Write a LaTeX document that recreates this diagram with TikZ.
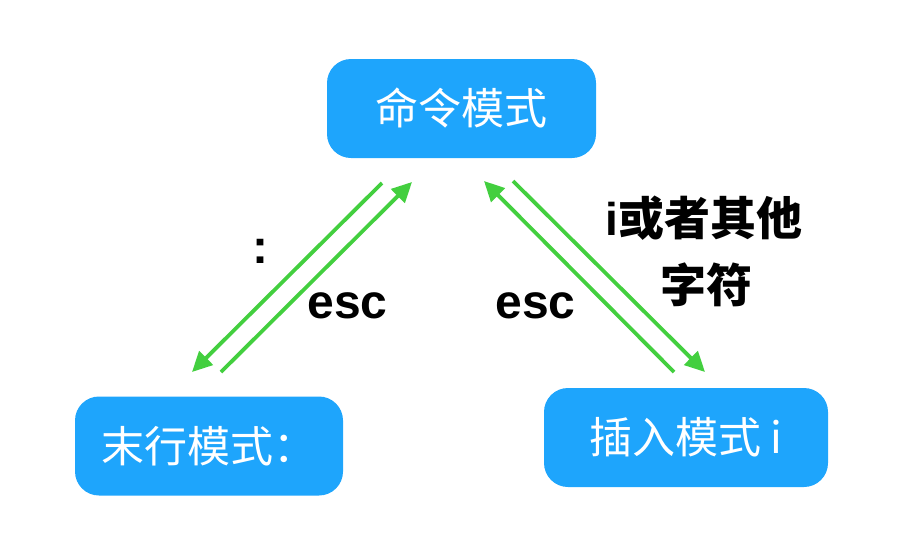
\documentclass[tikz,border=0pt]{standalone}
\usepackage{fontspec}
\setmainfont{Liberation Sans}
\newfontfamily\cjk{Noto Sans CJK SC}
\usetikzlibrary{arrows.meta}
\definecolor{boxblue}{RGB}{30,165,252}
\definecolor{arrgreen}{RGB}{67,207,63}
\begin{document}
\begin{tikzpicture}[x=1pt,y=-1pt,
  modebox/.style={draw=none, fill=boxblue, rounded corners=24pt, minimum height=99pt, text=white, font=\cjk\fontsize{43}{50}\selectfont, inner sep=0pt},
  conn/.style={draw=arrgreen, line width=3.8pt, -{Triangle[length=20pt,width=19pt]}},
  lbl/.style={font=\bfseries\fontsize{48}{56}\selectfont, anchor=base, inner sep=0pt},
  cjklbl/.style={font=\cjk\bfseries\fontsize{46}{54}\selectfont, anchor=base, inner sep=0pt}]
\useasboundingbox (0,0) rectangle (912,544);
\node[modebox, minimum width=269pt] (cmd) at (461.5,108.5) {命令模式};
\node[modebox, minimum width=268pt] (last) at (209,446) {末行模式：};
\node[modebox, minimum width=284pt] (ins) at (686,437.5) {插入模式 i};
\coordinate (a1s) at (382,183);
\coordinate (a1e) at (192,372);
\coordinate (a2s) at (221,372);
\coordinate (a2e) at (412,182);
\coordinate (a3s) at (674,372);
\coordinate (a3e) at (484,181);
\coordinate (a4s) at (513,181);
\coordinate (a4e) at (705,372);
\draw[conn] (a1s) -- (a1e);
\draw[conn] (a2s) -- (a2e);
\draw[conn] (a3s) -- (a3e);
\draw[conn] (a4s) -- (a4e);
\node[lbl] (colon) at (260,263) {:};
\node[lbl] (escL) at (347.5,318) {esc};
\node[lbl] (escR) at (535.5,318) {esc};
\node[cjklbl] (ilab) at (704,235) {{\rmfamily i}或者其他};
\node[cjklbl] (zf) at (706,302) {字符};
\end{tikzpicture}
\end{document}
